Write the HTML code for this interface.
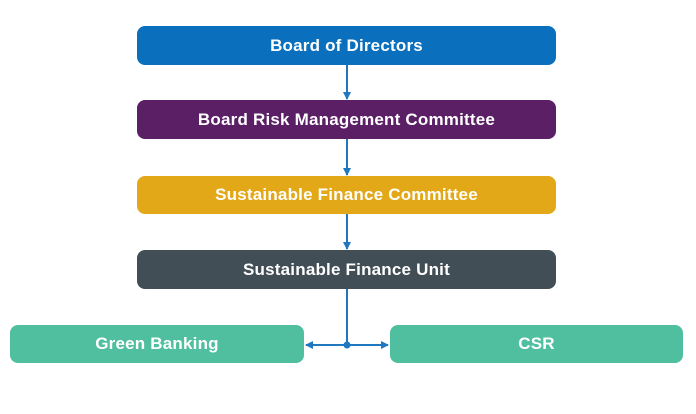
<!DOCTYPE html>
<html><head><style>
body{margin:0;width:696px;height:414px;background:#fff;position:relative;overflow:hidden;font-family:"Liberation Sans",sans-serif}
.b{position:absolute;border-radius:8px;color:#fff;font-size:17px;font-weight:bold;display:flex;align-items:center;justify-content:center;letter-spacing:0.2px}
</style></head><body>
<svg width="696" height="414" style="position:absolute;left:0;top:0">
<defs><marker id="a" markerWidth="8" markerHeight="8" refX="7" refY="4" orient="auto" markerUnits="userSpaceOnUse"><path d="M0,0 L8,4 L0,8 z" fill="#1f77c0"/></marker></defs>
<g stroke="#1f77c0" stroke-width="2" fill="none">
<line x1="347" y1="65" x2="347" y2="99" marker-end="url(#a)"/>
<line x1="347" y1="139" x2="347" y2="175" marker-end="url(#a)"/>
<line x1="347" y1="214" x2="347" y2="249" marker-end="url(#a)"/>
<line x1="347" y1="289" x2="347" y2="345"/>
<line x1="347" y1="345" x2="306" y2="345" marker-end="url(#a)"/>
<line x1="347" y1="345" x2="388" y2="345" marker-end="url(#a)"/>
</g>
<circle cx="347" cy="345" r="3.5" fill="#1f77c0"/>
</svg>
<div class="b" style="left:137px;top:26px;width:419px;height:39px;background:#0a6fbd">Board of Directors</div>
<div class="b" style="left:137px;top:100px;width:419px;height:39px;background:#5b1f66">Board Risk Management Committee</div>
<div class="b" style="left:137px;top:176px;width:419px;height:38px;background:#e2a817">Sustainable Finance Committee</div>
<div class="b" style="left:137px;top:250px;width:419px;height:39px;background:#424e56">Sustainable Finance Unit</div>
<div class="b" style="left:10px;top:325px;width:294px;height:38px;background:#4fbf9f">Green Banking</div>
<div class="b" style="left:390px;top:325px;width:293px;height:38px;background:#4fbf9f">CSR</div>
</body></html>
